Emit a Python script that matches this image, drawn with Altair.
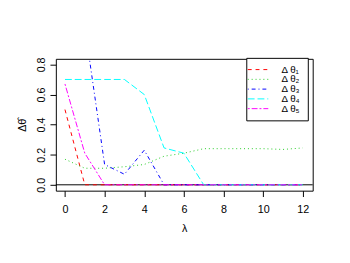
import altair as alt
import pandas as pd

lam = list(range(13))
theta1 = [0.50, 0.0, 0.0, 0.0, 0.0, 0.0, 0.0, 0.0, 0.0, 0.0, 0.0, 0.0, 0.0]
theta2 = [0.17, 0.11, 0.11, 0.12, 0.135, 0.19, 0.21, 0.24, 0.24, 0.24, 0.24, 0.235, 0.245]
theta3 = [1.20, 1.05, 0.135, 0.07, 0.23, 0.0, 0.0, 0.0, 0.0, 0.0, 0.0, 0.0, 0.0]
theta4 = [0.70, 0.70, 0.70, 0.70, 0.60, 0.245, 0.21, 0.0, 0.0, 0.0, 0.0, 0.0, 0.0]
theta5 = [0.67, 0.21, 0.0, 0.0, 0.0, 0.0, 0.0, 0.0, 0.0, 0.0, 0.0, 0.0, 0.0]

names = ["Δ θ₁", "Δ θ₂", "Δ θ₃", "Δ θ₄", "Δ θ₅"]
colors = ["#FF0000", "#22CC22", "#0000FF", "#00FFFF", "#FF00FF"]
dashes = [[4, 4], [1, 3], [1, 3, 4, 3], [7, 3], [2, 2, 6, 2]]
yticks = [0.0, 0.2, 0.4, 0.6, 0.8]
xticks = [0, 2, 4, 6, 8, 10, 12]

rows = []
for nm, vals in zip(names, [theta1, theta2, theta3, theta4, theta5]):
    for x, v in zip(lam, vals):
        rows.append({"lam": x, "val": v, "series": nm})
df = pd.DataFrame(rows)

font = "Liberation Sans"

xscale = alt.Scale(domain=[-0.46, 12.5], nice=False, zero=False)
yscale = alt.Scale(domain=[-0.039, 0.837], nice=False, zero=False)

xaxis = alt.Axis(values=xticks, title="λ", grid=False,
                 domain=False, tickSize=6, tickColor="black",
                 labelPadding=7, labelFontSize=11, labelColor="black",
                 labelOverlap=False,
                 labelFont=font, titleFont=font, titleFontSize=11,
                 titleFontWeight="normal", titlePadding=9, titleColor="black")
yaxis = alt.Axis(values=yticks, format=".1f", title="Δθ̂",
                 grid=False, domain=False, tickSize=6, tickColor="black",
                 labelAngle=270, labelAlign="center", labelBaseline="bottom",
                 labelOverlap=False,
                 labelPadding=4, labelFontSize=11, labelColor="black",
                 labelFont=font, titleFont=font, titleFontSize=11,
                 titleFontWeight="normal", titleX=-34, titleBaseline="middle",
                 titleColor="black")

lines = alt.Chart(df).mark_line(clip=True, strokeWidth=1).encode(
    x=alt.X("lam:Q", scale=xscale, axis=xaxis),
    y=alt.Y("val:Q", scale=yscale, axis=yaxis),
    color=alt.Color("series:N", scale=alt.Scale(domain=names, range=colors),
                    legend=alt.Legend(title=None, orient="none", legendX=195, legendY=-1,
                                      symbolType="M-3,0H3", symbolStrokeWidth=1,
                                      symbolSize=49, labelFontSize=10, labelFont=font,
                                      labelColor="black", rowPadding=-5,
                                      strokeColor="black", fillColor="white",
                                      padding=7, labelOffset=19)),
    strokeDash=alt.StrokeDash("series:N", scale=alt.Scale(domain=names, range=dashes),
                              legend=None),
)

zero = alt.Chart(df).transform_aggregate(
    n="count()"
).transform_calculate(z="0").mark_rule(color="black", strokeWidth=1).encode(
    y=alt.Y("z:Q", scale=yscale, axis=yaxis))

chart = alt.layer(zero, lines).properties(
    width=263, height=135,
    autosize=alt.AutoSizeParams(type="none"),
    padding={"left": 49, "top": 49, "right": 30, "bottom": 71},
    background="white",
).configure_view(stroke="black", strokeWidth=1)

chart.save("out.html", embed_options={"renderer": "svg", "actions": False})
